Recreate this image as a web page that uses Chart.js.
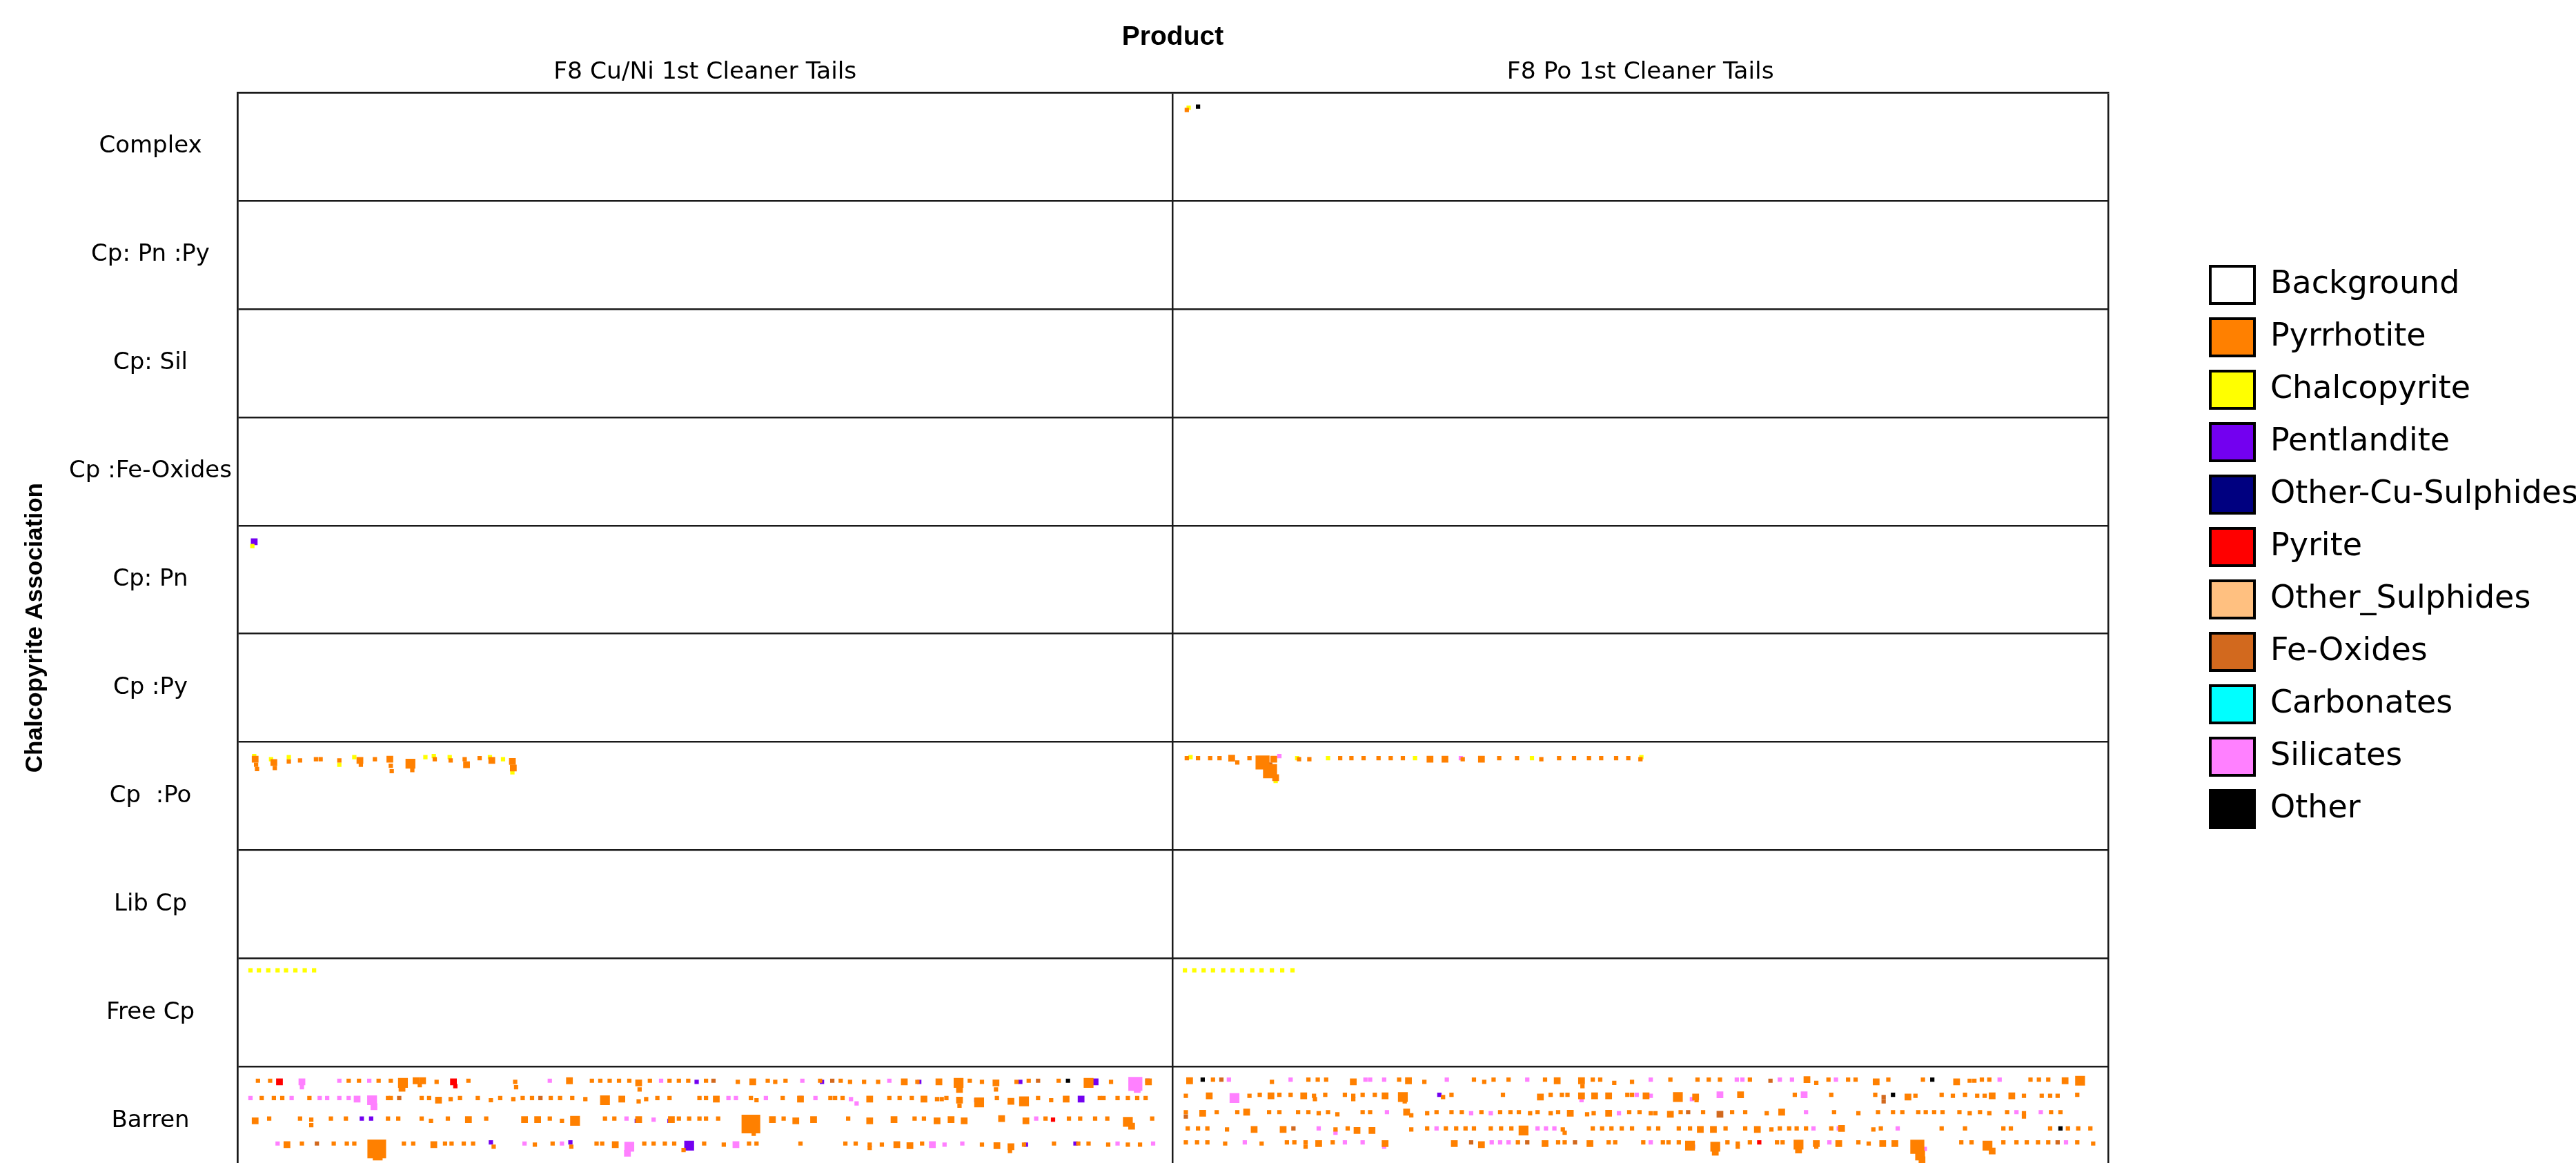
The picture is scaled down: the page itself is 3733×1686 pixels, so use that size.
<!DOCTYPE html>
<html>
<head>
<meta charset="utf-8">
<title>Chalcopyrite Association by Product</title>
<script src="https://cdn.jsdelivr.net/npm/chart.js@4.4.1/dist/chart.umd.min.js"></script>
<style>
  html, body { margin: 0; padding: 0; background: #fff; overflow: hidden; }
  canvas { display: block; }
</style>
</head>
<body>
<canvas id="grafico" width="3733" height="1686"></canvas>
<script>
// Rows, columns and legend
var rowLabels = ['Complex', 'Cp: Pn :Py', 'Cp: Sil', 'Cp :Fe-Oxides', 'Cp: Pn', 'Cp :Py', 'Cp  :Po', 'Lib Cp', 'Free Cp', 'Barren'];
var products = ['F8 Cu/Ni 1st Cleaner Tails', 'F8 Po 1st Cleaner Tails'];
var minerals = ['Background', 'Pyrrhotite', 'Chalcopyrite', 'Pentlandite', 'Other-Cu-Sulphides', 'Pyrite', 'Other_Sulphides', 'Fe-Oxides', 'Carbonates', 'Silicates', 'Other'];
var mineralColors = ['#ffffff', '#ff8000', '#ffff00', '#7300f0', '#000080', '#ff0000', '#ffc080', '#d2691e', '#00ffff', '#ff80ff', '#000000'];
// particle size classes, in % of a column width
var sizeClasses = [0, 0.46, 0.72, 1.05, 1.5, 2.0];
// the last row (Barren) is cut by the bottom of the image
var visibleRows = 9.89;

// Particles: [x (% of column, Po column = 100-200), y inside the row (0-1), size class, mineral index]
var complexPo = [[101.5,.16,1,1],[101.7,.14,1,2],[102.7,.13,1,10]];

var cpPnCuNi = [[1.8,.15,2,3],[1.6,.19,1,2]];

var cpPoCuNi = [[1.9,.16,2,1],[1.8,.13,1,2],[2.0,.21,1,1],[2.1,.25,1,1],[3.9,.19,2,1],[3.6,.16,1,2],[4.0,.24,1,1],
  [5.5,.14,1,2],[5.5,.18,1,1],[6.7,.17,1,1],[8.4,.16,1,1],[8.9,.16,1,1],[10.9,.17,1,1],[10.9,.21,1,2],[12.5,.14,1,2],
  [13.1,.17,2,1],[13.2,.21,1,1],[14.7,.16,1,1],[16.3,.16,2,1],[16.4,.22,1,1],[16.5,.27,1,1],[18.5,.2,3,1],[18.7,.26,1,1],
  [20.1,.14,1,2],[21.1,.16,1,1],[21.0,.13,1,2],[22.7,.14,1,2],[22.8,.17,1,1],[24.3,.16,1,1],[24.5,.21,2,1],[25.9,.15,1,1],
  [27.2,.17,2,1],[27.0,.14,1,2],[28.4,.16,1,2],[29.4,.18,2,1],[29.5,.24,2,1],[29.4,.28,1,2]];

var cpPoPo = [[101.5,.15,1,1],[101.9,.14,1,2],[102.7,.15,1,1],[104.0,.15,1,1],[105.0,.15,1,1],[106.3,.15,2,1],[106.9,.19,1,1],
  [108.2,.15,1,1],[109.6,.19,4,1],[110.8,.16,2,1],[110.4,.27,4,1],[111.0,.33,2,1],[111.0,.36,1,2],[110.3,.22,2,7],[111.4,.13,1,9],
  [113.3,.15,1,2],[113.5,.16,1,1],[114.6,.16,1,1],[116.6,.15,1,2],[117.9,.15,1,1],[119.1,.15,1,1],[120.4,.15,1,1],[122.0,.15,1,1],
  [123.3,.15,1,1],[124.6,.15,1,1],[125.9,.15,1,2],[127.5,.16,2,1],[129.1,.16,2,1],[131.0,.16,1,1],[130.8,.15,1,9],[133.0,.16,2,1],
  [134.9,.15,1,1],[136.8,.15,1,1],[138.4,.15,1,2],[139.4,.16,1,1],[141.3,.15,1,1],[142.9,.15,1,1],[144.5,.15,1,1],[145.8,.15,1,1],
  [147.4,.15,1,1],[148.7,.15,1,1],[150.0,.16,1,1],[150.1,.14,1,2]];

var freeCpCuNi = [[1.4,.11,1,2],[2.3,.11,1,2],[3.3,.11,1,2],[4.3,.11,1,2],[5.2,.11,1,2],[6.2,.11,1,2],[7.2,.11,1,2],[8.2,.11,1,2]];

var freeCpPo = [[101.3,.11,1,2],[102.3,.11,1,2],[103.3,.11,1,2],[104.3,.11,1,2],[105.4,.11,1,2],[106.4,.11,1,2],
  [107.4,.11,1,2],[108.5,.11,1,2],[109.5,.11,1,2],[110.6,.11,1,2],[111.7,.11,1,2],[112.8,.11,1,2]];

var barrenCuNi = [
  [2.2,.13,1,1],[3.5,.13,1,1],[4.5,.14,2,5],[6.9,.14,2,9],[6.9,.19,1,9],[10.9,.13,1,9],[11.9,.13,1,1],[13.0,.13,1,1],[14.1,.13,1,9],
  [15.1,.13,1,1],[16.4,.13,1,1],[17.7,.15,3,1],[17.6,.2,2,1],[19.1,.13,2,1],[19.8,.13,2,1],[19.5,.17,1,1],[21.3,.14,1,1],[23.1,.14,2,5],
  [23.3,.18,1,5],[24.7,.13,1,1],[29.7,.14,1,1],[29.8,.19,1,1],[33.4,.13,1,9],[35.5,.13,2,1],[37.9,.13,1,1],[38.8,.13,1,1],[39.8,.13,1,1],
  [40.8,.13,1,1],[41.9,.13,1,1],[42.9,.15,2,1],[43.0,.21,1,1],[44.1,.13,1,1],[45.3,.13,1,9],[46.2,.13,1,1],[47.2,.13,1,1],[48.2,.13,1,1],
  [49.1,.14,1,3],[50.1,.13,1,1],[50.9,.13,1,7],[53.5,.14,1,1],[55.1,.14,2,1],[56.7,.13,1,1],[57.5,.14,1,1],[58.6,.13,1,1],[60.4,.13,1,9],
  [62.3,.13,1,1],[62.5,.14,1,3],[63.6,.13,1,7],[64.5,.13,1,1],[65.5,.14,1,1],[67.0,.14,1,1],[68.5,.14,1,1],[69.7,.13,1,9],[71.3,.14,2,1],
  [72.7,.14,1,1],[72.9,.14,1,3],[75.0,.14,2,1],[77.1,.15,3,1],[77.2,.21,2,1],[78.3,.13,1,1],[79.6,.14,1,1],[81.1,.15,2,1],[81.1,.21,1,1],
  [83.3,.14,1,1],[83.7,.14,1,3],[84.6,.13,1,1],[85.6,.13,1,7],[87.8,.13,1,1],[88.8,.13,1,10],[91.0,.15,3,1],[91.7,.14,2,3],[93.4,.14,1,1],
  [96.0,.16,4,9],[96.2,.21,2,9],[97.4,.14,2,1],[97.3,.13,1,3],
  [1.4,.29,1,9],[2.6,.29,1,1],[3.9,.29,1,1],[4.8,.29,1,1],[5.8,.29,1,9],[7.7,.29,1,1],[8.8,.29,1,9],[9.6,.29,1,9],[10.9,.29,1,9],
  [11.9,.29,1,9],[12.8,.3,2,9],[14.4,.31,3,9],[14.6,.37,2,9],[16.1,.29,1,1],[16.4,.29,1,1],[17.3,.29,1,7],[19.7,.29,1,1],[20.5,.29,1,1],
  [21.5,.31,2,1],[22.8,.3,1,1],[23.8,.29,1,1],[25.7,.29,1,1],[27.1,.31,1,1],[28.1,.29,1,1],[29.5,.3,1,1],[30.5,.29,1,1],[31.5,.29,1,1],
  [32.4,.29,1,7],[33.5,.29,1,1],[34.5,.29,1,1],[35.8,.29,1,1],[37.2,.3,1,1],[39.3,.31,3,1],[41.1,.3,2,1],[42.9,.32,1,1],[43.7,.3,1,1],
  [44.9,.29,1,1],[46.2,.29,1,1],[49.4,.29,1,1],[50.1,.29,1,1],[51.2,.3,2,1],[52.5,.29,1,9],[53.3,.29,1,9],[54.9,.29,1,1],[55.5,.31,1,1],
  [56.5,.29,1,9],[58.3,.29,1,1],[60.2,.3,2,1],[60.2,.29,1,3],[61.8,.29,1,9],[63.4,.29,1,1],[63.9,.29,1,1],[64.7,.29,1,1],[65.6,.3,1,9],
  [66.2,.34,1,9],[67.6,.3,2,1],[69.7,.29,1,1],[70.8,.29,1,1],[72.1,.29,1,1],[73.4,.3,2,1],[74.8,.3,1,1],[75.3,.3,1,1],[75.8,.29,1,1],
  [77.2,.31,2,1],[77.2,.36,1,1],[79.3,.33,3,1],[79.0,.31,1,3],[81.2,.29,1,1],[82.7,.32,2,1],[84.1,.32,3,1],[85.6,.29,1,1],[87.0,.31,1,1],
  [88.6,.3,2,1],[90.2,.3,2,3],[92.2,.29,1,1],[92.6,.29,1,1],[94.1,.29,1,1],[95.2,.29,1,1],[96.2,.29,1,1],[97.1,.29,1,1],
  [1.9,.5,2,1],[3.4,.48,1,1],[6.7,.48,1,1],[7.9,.49,1,1],[7.9,.54,1,1],[10.0,.48,1,1],[11.6,.48,1,1],[13.3,.48,1,3],[14.3,.48,1,3],
  [16.1,.48,1,1],[17.2,.48,1,1],[19.7,.48,1,1],[20.7,.5,1,1],[22.5,.48,1,1],[24.7,.49,2,1],[26.6,.48,1,1],[30.7,.49,2,1],[32.1,.49,2,1],
  [33.4,.48,1,1],[34.7,.5,1,1],[36.1,.5,3,1],[39.3,.48,1,1],[40.3,.48,1,1],[41.6,.48,1,9],[42.9,.49,2,1],[42.7,.5,1,3],[44.5,.49,1,9],
  [46.4,.49,2,1],[46.2,.5,1,3],[47.2,.48,1,1],[48.3,.48,1,1],[49.4,.48,1,1],[50.1,.48,1,1],[51.4,.48,1,1],[54.9,.53,5,1],[55.2,.62,1,1],
  [57.2,.49,2,1],[58.4,.48,1,1],[59.7,.5,2,1],[61.6,.49,2,1],[65.3,.48,1,1],[67.6,.5,2,1],[70.2,.49,2,1],[72.4,.48,1,1],[73.4,.48,1,1],
  [74.8,.5,2,1],[76.3,.49,2,1],[77.7,.5,2,1],[81.7,.48,2,1],[84.3,.5,2,1],[85.4,.48,1,9],[86.4,.48,1,1],[87.2,.49,1,5],[88.9,.48,1,1],
  [90.1,.48,1,1],[91.7,.48,1,1],[93.0,.48,1,1],[95.2,.51,3,1],[95.6,.55,2,1],[97.8,.48,1,1],
  [4.3,.71,1,9],[5.3,.72,2,1],[6.9,.71,1,1],[8.5,.71,1,7],[10.3,.71,1,1],[11.7,.71,1,1],[12.5,.71,1,1],[14.9,.76,5,1],[15.0,.82,3,1],
  [17.8,.71,1,1],[18.8,.71,1,1],[21.0,.72,2,1],[22.2,.71,1,1],[22.9,.71,1,1],[24.2,.71,1,1],[25.2,.71,1,1],[27.1,.7,1,3],[27.4,.74,1,1],
  [30.7,.71,1,9],[31.8,.72,1,1],[33.7,.71,1,1],[34.7,.71,1,9],[35.6,.7,1,3],[35.7,.74,1,1],[38.4,.71,1,1],[39.0,.71,1,1],[40.4,.72,2,1],
  [41.9,.74,3,9],[41.7,.8,2,9],[43.5,.71,1,1],[44.5,.71,1,1],[45.7,.71,1,1],[46.7,.71,1,1],[48.3,.73,3,3],[47.7,.77,1,1],[49.9,.71,1,1],
  [52.0,.72,1,1],[53.3,.72,2,9],[54.7,.71,1,1],[55.5,.71,1,1],[60.2,.71,1,1],[65.0,.71,1,1],[66.1,.71,1,1],[67.6,.72,1,1],[67.6,.75,1,1],
  [68.9,.72,1,1],[70.5,.72,2,1],[71.9,.73,2,1],[73.2,.71,1,1],[74.3,.72,2,9],[75.6,.72,1,9],[77.5,.71,1,9],[79.6,.72,1,1],[81.2,.73,2,1],
  [82.7,.74,2,1],[82.6,.78,1,1],[84.1,.72,1,1],[84.3,.72,1,3],[87.3,.71,1,1],[89.6,.71,1,3],[89.9,.71,1,1],[91.0,.71,1,1],[93.1,.72,1,1],
  [94.1,.71,1,9],[95.2,.72,1,1],[96.5,.72,1,1],[97.9,.71,1,9]
];

var barrenPo = [
  [101.8,.13,2,1],[103.2,.12,1,10],[104.3,.12,1,1],[105.2,.12,1,7],[106.0,.12,1,9],[110.6,.14,1,1],[112.6,.12,1,9],[114.5,.12,1,1],
  [115.5,.12,1,1],[116.4,.12,1,1],[119.3,.14,2,1],[120.6,.12,1,9],[121.1,.12,1,9],[122.6,.12,1,9],[124.2,.12,1,1],[125.2,.13,2,1],
  [126.9,.14,1,1],[129.3,.12,1,9],[132.2,.12,1,1],[133.3,.14,1,1],[134.3,.12,1,1],[135.9,.12,1,1],[137.9,.12,1,9],[139.8,.12,1,1],
  [141.1,.13,2,1],[143.7,.13,2,1],[143.8,.18,1,1],[144.9,.12,1,1],[145.7,.12,1,1],[147.2,.15,1,1],[149.1,.14,1,1],
  [151.1,.12,1,9],[153.2,.12,1,1],[156.1,.12,1,1],[157.3,.12,1,1],[158.5,.12,1,1],[160.3,.12,1,9],[160.9,.12,1,9],[161.7,.12,1,1],
  [163.9,.13,1,7],[164.9,.12,1,9],[166.2,.12,1,9],[167.8,.12,2,1],[168.8,.15,1,1],[170.1,.12,1,1],[170.9,.12,1,9],[172.2,.12,1,1],
  [173.0,.12,1,1],[175.2,.14,2,1],[176.5,.12,1,1],[180.2,.12,1,1],[181.2,.12,1,10],[183.8,.14,2,1],[185.2,.13,1,1],[185.7,.13,1,1],
  [186.5,.12,1,1],[187.3,.12,1,1],[188.4,.12,1,9],[191.7,.12,1,1],[192.6,.12,1,1],[193.6,.12,1,1],[195.4,.13,2,1],[197.0,.13,3,1],
  [101.4,.27,1,1],[103.9,.27,2,1],[106.6,.29,3,9],[108.2,.27,1,1],[109.3,.26,1,1],[110.5,.27,2,1],[111.4,.26,1,1],[112.6,.26,1,1],
  [114.0,.27,2,1],[115.1,.27,1,1],[115.2,.3,1,1],[116.3,.26,1,1],[118.4,.26,1,1],[119.3,.27,1,1],[119.3,.3,1,1],[120.3,.26,1,1],
  [121.6,.26,1,1],[122.7,.27,2,1],[124.6,.28,3,1],[124.8,.32,1,1],[128.5,.26,1,3],[128.9,.28,1,1],[129.8,.26,1,1],[135.3,.26,1,1],
  [139.3,.28,2,1],[140.4,.26,1,1],[141.6,.26,1,1],[142.2,.26,1,1],[143.7,.27,2,1],[143.7,.31,1,9],[145.1,.27,2,1],[146.6,.27,2,1],
  [148.6,.26,1,1],[149.1,.26,1,1],[149.6,.26,1,9],
  [150.6,.27,2,1],[151.1,.27,1,9],[154.0,.28,3,1],[155.9,.28,2,1],[155.5,.3,1,9],[156.0,.31,1,1],[158.5,.26,2,9],[160.7,.26,2,1],
  [166.5,.26,1,1],[167.5,.26,2,9],[170.4,.26,1,1],[175.1,.26,1,1],[176.0,.28,1,7],[176.0,.32,1,7],[177.0,.26,1,10],[178.6,.28,2,1],
  [179.4,.27,1,1],[182.2,.26,1,1],[183.4,.27,1,1],[184.7,.26,1,1],[186.0,.27,1,1],[186.8,.27,1,1],[187.6,.27,2,1],[189.7,.27,2,1],
  [191.0,.27,1,1],[192.9,.27,1,1],[193.8,.27,1,1],[194.6,.27,1,1],[196.7,.26,1,1],
  [101.4,.42,1,1],[101.4,.46,1,7],[103.2,.43,2,1],[104.7,.42,1,1],[106.9,.42,1,1],[107.9,.42,2,1],[110.3,.42,1,1],[111.4,.42,1,1],
  [113.4,.42,1,1],[114.5,.42,1,1],[115.6,.43,1,1],[116.6,.42,1,1],[117.6,.44,1,1],[120.3,.42,1,1],[121.1,.42,1,1],[122.9,.42,1,9],
  [125.0,.42,2,1],[125.5,.45,1,1],[127.2,.43,1,1],[128.2,.42,1,1],[129.8,.42,1,1],[130.9,.42,1,1],[131.9,.43,1,9],[133.0,.42,1,1],
  [134.0,.43,1,9],[135.0,.42,1,1],[136.1,.42,1,1],[137.0,.42,1,1],[138.2,.43,1,1],[139.0,.42,1,1],[140.4,.43,1,1],[141.2,.42,1,1],
  [142.5,.43,2,1],[144.3,.44,1,1],[145.0,.43,1,1],[146.6,.43,2,1],[147.7,.43,1,9],[148.8,.42,1,1],[149.9,.42,1,1],
  [151.1,.43,1,1],[151.6,.43,1,1],[153.2,.44,2,1],[154.3,.42,1,1],[155.1,.42,1,7],[156.7,.42,1,1],[158.5,.44,2,7],[159.8,.42,1,1],
  [161.2,.42,1,1],[163.5,.43,1,1],[165.1,.42,2,1],[167.7,.42,1,9],[170.7,.42,1,1],[173.3,.43,1,1],[175.4,.42,1,1],[177.0,.42,1,1],
  [178.0,.42,1,1],[179.7,.42,1,1],[180.5,.42,1,1],[181.4,.42,1,1],[182.3,.42,1,1],[184.1,.42,1,1],[185.2,.43,1,1],[186.3,.42,1,1],
  [187.3,.43,1,1],[189.2,.42,1,1],[190.2,.42,1,9],[191.0,.43,1,1],[191.0,.46,1,1],[192.8,.42,1,9],[193.9,.42,1,1],[194.9,.42,1,1],
  [101.6,.57,1,1],[102.7,.57,1,1],[103.7,.57,1,1],[105.8,.58,1,1],[108.7,.58,2,1],[111.8,.58,2,1],[112.9,.57,1,7],[115.6,.57,1,9],
  [117.4,.58,1,1],[117.4,.61,1,9],[118.7,.57,1,1],[119.7,.59,2,1],[121.3,.59,2,1],[125.5,.58,1,1],[127.2,.57,1,1],[128.2,.57,1,9],
  [129.2,.57,1,1],[130.3,.57,1,1],[131.3,.57,1,1],[132.2,.57,1,1],[134.0,.57,1,1],[135.1,.57,1,1],[136.2,.57,1,1],[137.5,.59,3,1],
  [139.0,.57,1,9],[139.9,.57,1,9],[140.8,.57,1,9],[141.7,.58,1,1],[141.9,.61,1,1],[144.9,.57,1,1],[145.9,.57,1,1],[146.9,.57,1,1],
  [148.0,.57,1,1],[149.1,.57,1,1],
  [150.9,.57,1,1],[151.9,.57,1,1],[154.1,.57,1,1],[155.3,.57,1,1],[156.4,.58,2,1],[157.8,.58,2,1],[159.1,.57,1,1],[161.2,.57,1,1],
  [162.5,.58,2,1],[164.0,.58,1,1],[164.9,.57,1,1],[165.9,.57,1,1],[166.7,.57,1,1],[167.7,.57,1,1],[168.5,.57,1,9],[170.4,.57,1,1],
  [171.5,.57,2,1],[171.2,.57,1,9],[174.9,.58,1,1],[175.7,.57,1,1],[177.5,.57,1,9],[182.2,.57,1,1],[184.7,.57,1,1],[188.8,.57,1,1],
  [189.6,.57,1,1],[193.8,.57,1,1],[194.9,.57,1,10],[195.7,.57,1,1],[196.8,.57,1,1],[198.1,.57,1,1],
  [101.4,.7,1,1],[102.6,.7,1,1],[103.7,.7,1,1],[105.6,.71,1,1],[107.7,.7,1,9],[109.5,.71,1,1],[112.2,.7,1,1],[113.0,.7,1,1],
  [114.2,.7,1,1],[114.2,.74,1,1],[115.6,.71,2,1],[117.1,.7,1,1],[118.4,.7,1,9],[120.3,.7,1,9],[122.7,.71,2,1],[122.6,.74,1,9],
  [130.1,.71,2,1],[131.9,.7,1,7],[133.0,.72,2,1],[134.1,.7,1,9],[135.0,.7,1,9],[135.9,.7,1,9],[136.9,.7,1,1],[137.9,.7,1,7],
  [139.8,.71,2,1],[141.2,.7,1,1],[141.9,.7,1,1],[143.0,.7,1,7],[144.6,.71,2,1],[146.6,.7,1,1],[147.3,.7,1,1],[150.3,.7,1,1],
  [151.1,.7,1,9],[152.4,.7,1,1],[153.0,.7,1,1],[154.1,.7,1,1],[155.3,.73,3,1],[155.6,.74,1,3],[158.0,.74,3,1],[158.0,.79,2,1],
  [159.3,.7,1,1],[160.4,.71,1,1],[160.4,.74,1,1],[161.7,.7,1,1],[162.7,.7,1,5],[164.6,.7,1,1],[165.2,.7,1,1],[166.9,.72,3,1],
  [166.9,.77,2,1],[168.8,.71,2,1],[168.8,.74,1,1],[170.2,.7,1,9],[171.2,.71,2,1],[173.3,.7,1,1],[174.4,.71,1,1],[175.9,.71,2,1],
  [177.2,.71,2,1],[179.6,.74,4,1],[179.9,.82,3,1],[180.1,.86,2,1],[180.4,.76,1,9],[184.3,.7,1,1],[185.4,.7,1,1],[187.1,.73,3,1],
  [187.6,.78,2,1],[188.8,.7,1,1],[190.2,.7,1,1],[191.3,.7,1,1],[192.5,.7,1,1],[193.6,.7,1,1],[194.6,.7,1,7],[195.5,.7,1,9],
  [196.7,.7,1,1],[198.4,.71,1,1]
];

// which row each particle list goes into
var particleRows = [
  ['Complex', complexPo],
  ['Cp: Pn', cpPnCuNi],
  ['Cp  :Po', cpPoCuNi],
  ['Cp  :Po', cpPoPo],
  ['Free Cp', freeCpCuNi],
  ['Free Cp', freeCpPo],
  ['Barren', barrenCuNi],
  ['Barren', barrenPo]
];

Chart.defaults.font.family = "'DejaVu Sans', sans-serif";
Chart.defaults.color = '#000';

DibujarGrafico();

function ArmarDatasets() {
    var datasets = [];
    for (var m = 0; m < minerals.length; m++) {
        var puntos = [];
        for (var r = 0; r < particleRows.length; r++) {
            var fila = rowLabels.indexOf(particleRows[r][0]);
            var lista = particleRows[r][1];
            for (var i = 0; i < lista.length; i++) {
                if (lista[i][3] === m) {
                    puntos.push({ x: lista[i][0], y: fila + lista[i][1], s: lista[i][2] });
                }
            }
        }
        datasets.push({
            label: minerals[m],
            data: puntos,
            backgroundColor: mineralColors[m],
            borderWidth: 0,
            pointStyle: 'rect',
            pointRadius: radioParticula,
            pointHoverRadius: radioParticula
        });
    }
    return datasets;
}

// square side taken from the x scale, radius for Chart.js 'rect' points
function radioParticula(ctx) {
    var raw = ctx.raw;
    if (!raw) return 0;
    var sx = ctx.chart.scales.x;
    var lado = Math.abs(sx.getPixelForValue(sizeClasses[raw.s]) - sx.getPixelForValue(0));
    return isFinite(lado) ? lado / Math.SQRT2 : 0;
}

// no extra space for tick labels at the ends of the axes
function sinRelleno(scale) {
    scale.paddingTop = 0;
    scale.paddingBottom = 0;
    scale.paddingLeft = 0;
    scale.paddingRight = 0;
}

function DibujarGrafico() {
    var lineaColor = '#1a1a1a';
    var canvas = document.getElementById('grafico').getContext('2d');
    new Chart(canvas, {
        type: 'scatter',
        data: { datasets: ArmarDatasets() },
        options: {
            responsive: false,
            animation: false,
            events: [],
            layout: { autoPadding: false, padding: 0 },
            plugins: {
                tooltip: { enabled: false },
                title: {
                    display: true,
                    text: 'Product',
                    fullSize: false,
                    color: '#000',
                    font: { family: "'Liberation Sans', Arial, sans-serif", size: 39, weight: 'bold' },
                    padding: { top: 31, bottom: 0 }
                },
                legend: {
                    position: 'right',
                    align: 'start',
                    maxWidth: 552,
                    title: { display: true, text: ' ', font: { size: 10 }, padding: { top: 352, bottom: 0 } },
                    labels: {
                        boxWidth: 64,
                        boxHeight: 54,
                        padding: 22,
                        color: '#000',
                        font: { family: "'DejaVu Sans', sans-serif", size: 46 },
                        generateLabels: function () {
                            return minerals.map(function (m, i) {
                                return {
                                    text: m,
                                    fillStyle: mineralColors[i],
                                    strokeStyle: '#000',
                                    lineWidth: 4,
                                    fontColor: '#000',
                                    hidden: false,
                                    datasetIndex: i
                                };
                            });
                        }
                    }
                }
            },
            scales: {
                x: {
                    type: 'linear',
                    position: 'top',
                    min: 0,
                    max: 200,
                    afterBuildTicks: function (scale) {
                        scale.ticks = products.map(function (p, i) { return { value: i * 100 + 50 }; });
                    },
                    afterFit: function (scale) { scale.height = 56.4; sinRelleno(scale); },
                    ticks: {
                        autoSkip: false,
                        maxRotation: 0,
                        padding: 8,
                        color: '#000',
                        font: { size: 34.5 },
                        callback: function (v, i) { return products[i]; }
                    },
                    grid: { offset: true, drawTicks: false, color: lineaColor, lineWidth: 2.5 },
                    border: { display: true, color: lineaColor, width: 2.5 }
                },
                y: {
                    type: 'linear',
                    position: 'left',
                    reverse: true,
                    min: 0,
                    max: visibleRows,
                    afterBuildTicks: function (scale) {
                        scale.ticks = rowLabels.map(function (r, i) { return { value: i + 0.5 }; });
                    },
                    afterFit: function (scale) { scale.width = 344; sinRelleno(scale); },
                    ticks: {
                        autoSkip: false,
                        crossAlign: 'center',
                        padding: 8,
                        color: '#000',
                        font: { size: 34 },
                        callback: function (v, i) { return rowLabels[i]; }
                    },
                    grid: { offset: true, drawTicks: false, color: lineaColor, lineWidth: 2.5 },
                    border: { display: true, color: lineaColor, width: 2.5 },
                    title: {
                        display: true,
                        text: 'Chalcopyrite Association',
                        color: '#000',
                        font: { family: "'Liberation Sans', Arial, sans-serif", size: 35, weight: 'bold' },
                        padding: { top: 30, bottom: 0 }
                    }
                },
                yr: {
                    axis: 'y',
                    type: 'linear',
                    position: 'right',
                    display: true,
                    ticks: { display: false },
                    grid: { display: false },
                    border: { display: false },
                    afterFit: function (scale) { scale.width = 126; sinRelleno(scale); }
                }
            }
        }
    });
}
</script>
</body>
</html>
